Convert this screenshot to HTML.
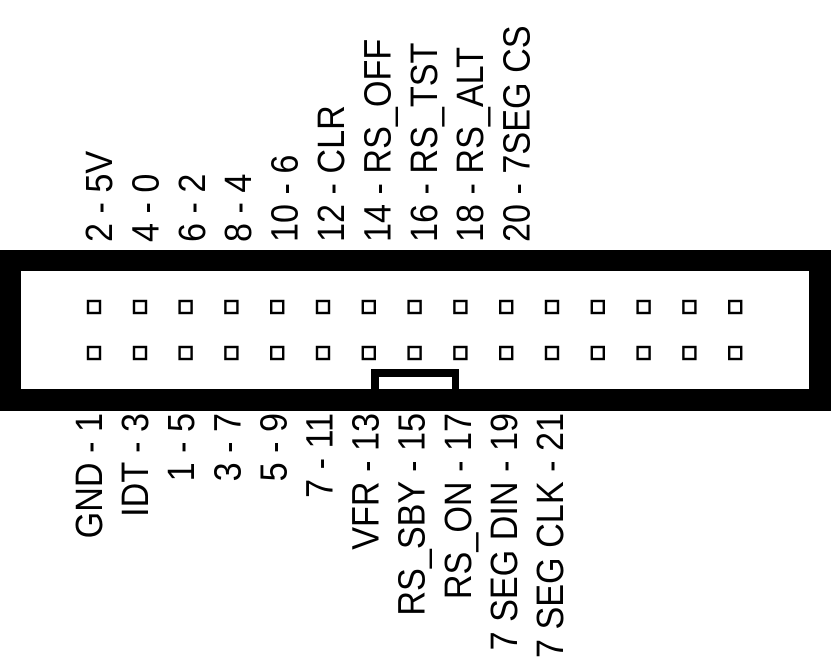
<!DOCTYPE html>
<html><head><meta charset="utf-8"><style>html,body{margin:0;padding:0;background:#fff;}svg{display:block}</style></head>
<body>
<svg width="831" height="661" viewBox="0 0 831 661" xmlns="http://www.w3.org/2000/svg" font-family="'Liberation Sans', Arial, sans-serif" font-size="38" fill="#000">
<rect x="0" y="250" width="831" height="161" fill="#000"/>
<rect x="21" y="271" width="788" height="118" fill="#fff"/>
<rect x="371" y="369" width="88" height="20" fill="#000"/>
<rect x="379" y="377" width="73" height="12" fill="#fff"/>
<g fill="none" stroke="#000" stroke-width="2.4">
<rect x="88" y="301" width="12" height="12"/><rect x="88" y="347" width="12" height="12"/>
<rect x="134" y="301" width="12" height="12"/><rect x="134" y="347" width="12" height="12"/>
<rect x="179.6" y="301" width="12" height="12"/><rect x="179.6" y="347" width="12" height="12"/>
<rect x="225.4" y="301" width="12" height="12"/><rect x="225.4" y="347" width="12" height="12"/>
<rect x="271.2" y="301" width="12" height="12"/><rect x="271.2" y="347" width="12" height="12"/>
<rect x="317" y="301" width="12" height="12"/><rect x="317" y="347" width="12" height="12"/>
<rect x="362.8" y="301" width="12" height="12"/><rect x="362.8" y="347" width="12" height="12"/>
<rect x="408.6" y="301" width="12" height="12"/><rect x="408.6" y="347" width="12" height="12"/>
<rect x="454.4" y="301" width="12" height="12"/><rect x="454.4" y="347" width="12" height="12"/>
<rect x="500.2" y="301" width="12" height="12"/><rect x="500.2" y="347" width="12" height="12"/>
<rect x="546" y="301" width="12" height="12"/><rect x="546" y="347" width="12" height="12"/>
<rect x="591.8" y="301" width="12" height="12"/><rect x="591.8" y="347" width="12" height="12"/>
<rect x="637.6" y="301" width="12" height="12"/><rect x="637.6" y="347" width="12" height="12"/>
<rect x="683.4" y="301" width="12" height="12"/><rect x="683.4" y="347" width="12" height="12"/>
<rect x="729.2" y="301" width="12" height="12"/><rect x="729.2" y="347" width="12" height="12"/>
</g>
<g>
<text transform="translate(112,242) rotate(-90) scale(0.9,1)">2 - 5V</text>
<text transform="translate(158.4,242) rotate(-90) scale(0.9,1)">4 - 0</text>
<text transform="translate(204.8,242) rotate(-90) scale(0.9,1)">6 - 2</text>
<text transform="translate(251.2,242) rotate(-90) scale(0.9,1)">8 - 4</text>
<text transform="translate(297.6,242) rotate(-90) scale(0.9,1)">10 - 6</text>
<text transform="translate(344,242) rotate(-90) scale(0.9,1)">12 - CLR</text>
<text transform="translate(390.4,242) rotate(-90) scale(0.9,1)">14 - RS_OFF</text>
<text transform="translate(436.8,242) rotate(-90) scale(0.9,1)">16 - RS_TST</text>
<text transform="translate(483.2,242) rotate(-90) scale(0.9,1)">18 - RS_ALT</text>
<text transform="translate(529.6,242) rotate(-90) scale(0.9,1)">20 - 7SEG CS</text>
</g>
<g text-anchor="end">
<text transform="translate(102,413) rotate(-90) scale(0.9,1)">GND - 1</text>
<text transform="translate(148.1,413) rotate(-90) scale(0.9,1)">IDT - 3</text>
<text transform="translate(194.2,413) rotate(-90) scale(0.9,1)">1 - 5</text>
<text transform="translate(240.3,413) rotate(-90) scale(0.9,1)">3 - 7</text>
<text transform="translate(286.4,413) rotate(-90) scale(0.9,1)">5 - 9</text>
<text transform="translate(332.5,413) rotate(-90) scale(0.9,1)">7 - 11</text>
<text transform="translate(378.6,413) rotate(-90) scale(0.9,1)">VFR - 13</text>
<text transform="translate(424.7,413) rotate(-90) scale(0.9,1)">RS_SBY - 15</text>
<text transform="translate(470.8,413) rotate(-90) scale(0.9,1)">RS_ON - 17</text>
<text transform="translate(516.9,413) rotate(-90) scale(0.9,1)">7 SEG DIN - 19</text>
<text transform="translate(563,413) rotate(-90) scale(0.9,1)">7 SEG CLK - 21</text>
</g>
</svg>
</body></html>
